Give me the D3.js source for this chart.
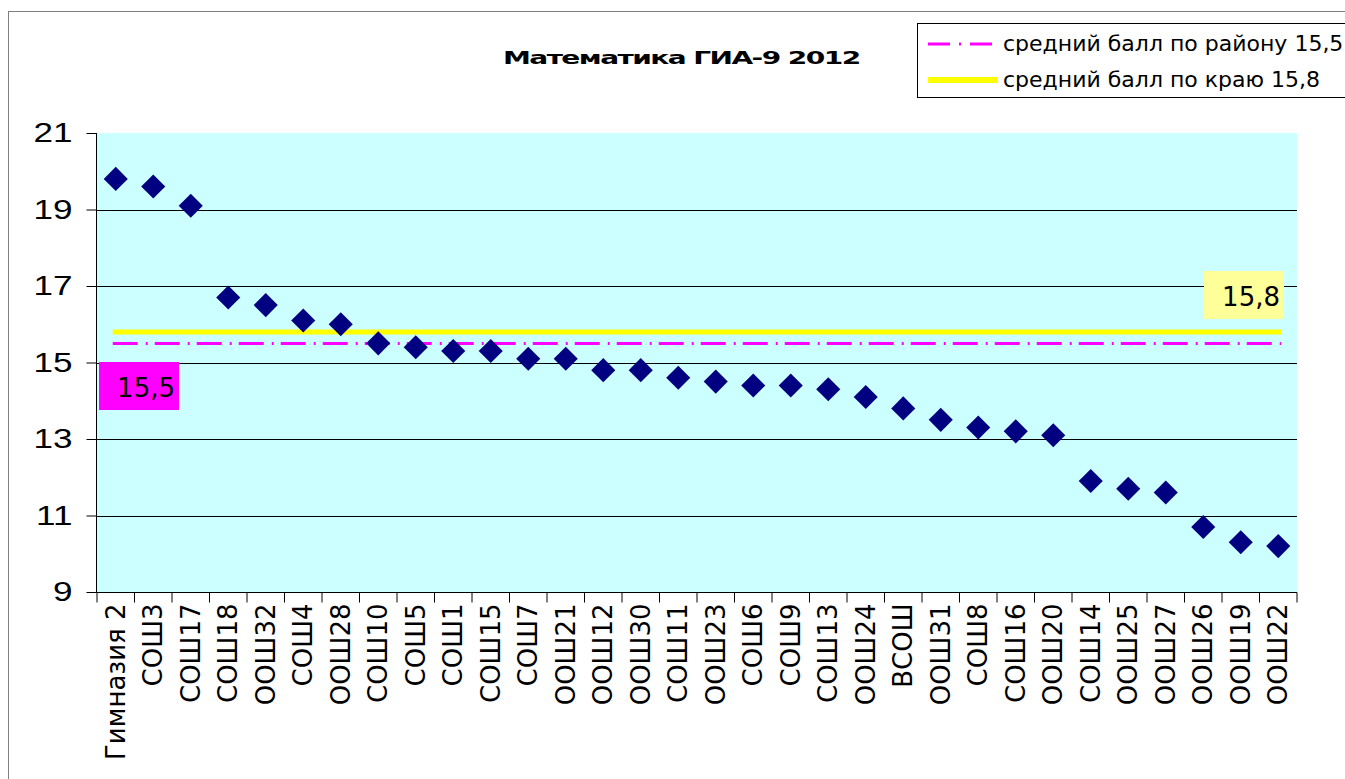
<!DOCTYPE html>
<html>
<head>
<meta charset="utf-8">
<script src="https://cdn.jsdelivr.net/npm/d3@7"></script>
<style>
  body { margin: 0; background: #fff; }
  svg { font-family: "DejaVu Sans", Verdana, sans-serif; }
</style>
</head>
<body>
<svg id="chart" width="1345" height="779"></svg>
<script>
// schools, sorted by score
var schools = ["Гимназия 2", "СОШ3", "СОШ17", "СОШ18", "ООШ32", "СОШ4", "ООШ28", "СОШ10",
  "СОШ5", "СОШ1", "СОШ15", "СОШ7", "ООШ21", "ООШ12", "ООШ30", "СОШ11", "ООШ23", "СОШ6",
  "СОШ9", "СОШ13", "ООШ24", "ВСОШ", "ООШ31", "СОШ8", "СОШ16", "ООШ20", "СОШ14", "ООШ25",
  "ООШ27", "ООШ26", "ООШ19", "ООШ22"];
var scores = [19.8, 19.6, 19.1, 16.7, 16.5, 16.1, 16.0, 15.5, 15.4, 15.3, 15.3, 15.1, 15.1,
  14.8, 14.8, 14.6, 14.5, 14.4, 14.4, 14.3, 14.1, 13.8, 13.5, 13.3, 13.2, 13.1, 11.9, 11.7,
  11.6, 10.7, 10.3, 10.2];
var yTicks = [9, 11, 13, 15, 17, 19, 21];
var districtAvg = 15.5;
var regionAvg = 15.8;
var legendLabels = ["средний балл по району 15,5", "средний балл по краю 15,8"];

var svg = d3.select("#chart");
var margin = {left: 97, right: 48, top: 133, bottom: 187};
var width = 1345, height = 779;

var x = d3.scaleBand()
    .domain(schools)
    .range([margin.left, width - margin.right]);

var y = d3.scaleLinear()
    .domain([9, 21])
    .range([height - margin.bottom, margin.top]);

// outer chart frame
svg.append("rect")
    .attr("x", 8.5).attr("y", 11.5)
    .attr("width", 1400).attr("height", 900)
    .style("fill", "none")
    .style("stroke", "#808080");

// plot background
svg.append("rect")
    .attr("x", margin.left).attr("y", margin.top)
    .attr("width", x.range()[1] - margin.left)
    .attr("height", y(9) - margin.top)
    .style("fill", "#ccffff");

// gridlines
svg.append("g")
  .selectAll("line")
  .data(yTicks.filter(function(d) { return d > 9 && d < 21; }))
  .enter().append("line")
    .attr("x1", margin.left).attr("x2", x.range()[1])
    .attr("y1", function(d) { return Math.round(y(d)) + 0.5; })
    .attr("y2", function(d) { return Math.round(y(d)) + 0.5; })
    .style("stroke", "#000")
    .style("stroke-width", 1);

// y axis
var yAxis = svg.append("g")
    .attr("transform", "translate(" + (margin.left - 0.5) + ",0)")
    .call(d3.axisLeft(y).tickValues(yTicks).tickSize(10).tickPadding(14));
yAxis.selectAll("line, path").style("stroke", "#000");
yAxis.select(".domain").attr("d", "M0," + y(21) + "V" + y(9));
// the original digits are wide, so stretch them sideways
var tickStretch = 1.3;
yAxis.selectAll("text")
    .style("font-size", "27px").style("fill", "#000")
    .attr("x", -24 / tickStretch)
    .attr("transform", "scale(" + tickStretch + ",1)");

// x axis (ticks between categories)
var xg = svg.append("g")
    .attr("transform", "translate(0," + (Math.round(y(9)) + 0.5) + ")");
xg.append("line")
    .attr("x1", margin.left - 10).attr("x2", x.range()[1])
    .style("stroke", "#000");
xg.selectAll(".tick")
  .data(d3.range(schools.length + 1))
  .enter().append("line")
    .attr("x1", function(i) { return margin.left + i * x.step(); })
    .attr("x2", function(i) { return margin.left + i * x.step(); })
    .attr("y1", 0).attr("y2", 10)
    .style("stroke", "#000");
xg.selectAll("text")
  .data(schools)
  .enter().append("text")
    .attr("transform", function(d) {
      return "translate(" + (x(d) + x.bandwidth() / 2 + 9) + ",11) rotate(-90)";
    })
    .attr("text-anchor", "end")
    .style("font-size", "26px")
    .text(function(d) { return d; });

// average lines
var lineStart = x(schools[0]) + x.bandwidth() / 2 - 3;
var lineEnd = x(schools[schools.length - 1]) + x.bandwidth() / 2 + 3;

svg.append("line")
    .attr("x1", lineStart).attr("x2", lineEnd)
    .attr("y1", y(regionAvg)).attr("y2", y(regionAvg))
    .style("stroke", "#ffff00")
    .style("stroke-width", 5);

svg.append("line")
    .attr("x1", lineStart).attr("x2", lineEnd)
    .attr("y1", y(districtAvg)).attr("y2", y(districtAvg))
    .style("stroke", "#ff00ff")
    .style("stroke-width", 3)
    .style("stroke-dasharray", "25,8,2,7");

// markers
svg.append("g")
  .selectAll("path")
  .data(scores)
  .enter().append("path")
    .attr("d", d3.symbol().type(d3.symbolSquare).size(290))
    .attr("transform", function(d, i) {
      return "translate(" + (x(schools[i]) + x.bandwidth() / 2) + "," + y(d) + ") rotate(45)";
    })
    .style("fill", "#000080");

// value labels for averages
function valueLabel(xPos, yPos, txt, fill) {
  svg.append("rect")
      .attr("x", xPos).attr("y", yPos)
      .attr("width", 80).attr("height", 48)
      .style("fill", fill);
  svg.append("text")
      .attr("x", xPos + 76).attr("y", yPos + 35)
      .attr("text-anchor", "end")
      .style("font-size", "26px")
      .text(txt);
}
valueLabel(99, 362, "15,5", "#ff00ff");
valueLabel(1204, 271, "15,8", "#ffff99");

// title, squeezed letters stretched to the original width
var title = svg.append("text")
    .attr("y", 64)
    .style("font-size", "18px")
    .style("font-weight", "bold")
    .style("letter-spacing", "-1px")
    .text("Математика ГИА-9 2012");
var titleLen = title.node().getComputedTextLength();
var titleScale = 357 / titleLen;
title.attr("x", 503 / titleScale)
    .attr("transform", "scale(" + titleScale + ",1)");

// legend
var lg = svg.append("g");
lg.append("rect")
    .attr("x", 917.5).attr("y", 23.5)
    .attr("width", 500).attr("height", 74)
    .style("fill", "#fff")
    .style("stroke", "#000");
lg.append("line")
    .attr("x1", 928).attr("x2", 996).attr("y1", 44).attr("y2", 44)
    .style("stroke", "#ff00ff").style("stroke-width", 3)
    .style("stroke-dasharray", "22,9,2,9");
lg.append("line")
    .attr("x1", 928).attr("x2", 998).attr("y1", 80).attr("y2", 80)
    .style("stroke", "#ffff00").style("stroke-width", 6);
lg.selectAll("text")
  .data(legendLabels)
  .enter().append("text")
    .attr("x", 1003)
    .attr("y", function(d, i) { return 51 + i * 36; })
    .style("font-size", "22px")
    .text(function(d) { return d; });
</script>
</body>
</html>
